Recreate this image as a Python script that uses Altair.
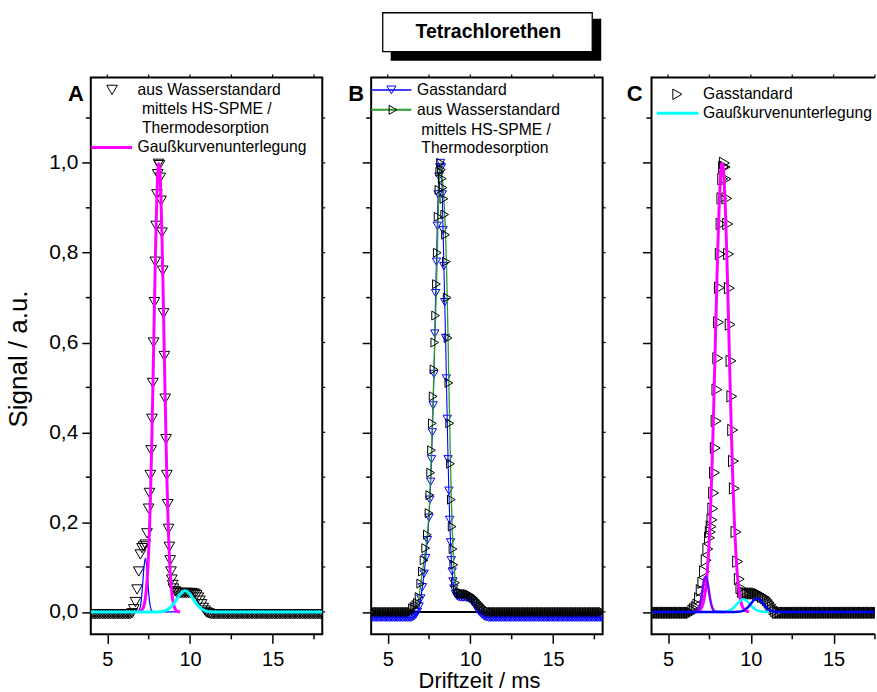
import altair as alt
import pandas as pd

# ---------------- data ----------------
# drift-time sampling of the measured spectra (ms): flat baseline parts and peak part
t_pre = [round(4.0 + 0.1 * i, 2) for i in range(25)]      # 4.0 ... 6.4
t_mid = [6.5, 6.6, 6.7, 6.8, 6.9, 7.0, 7.1, 7.2, 7.3, 7.4,
         7.5, 7.55, 7.6, 7.65, 7.7, 7.75, 7.8, 7.85, 7.9, 7.95,
         8.0, 8.05, 8.1, 8.15, 8.2, 8.25, 8.3, 8.35, 8.4, 8.45,
         8.5, 8.55, 8.6, 8.65, 8.7, 8.75, 8.8, 8.85, 8.9, 8.95,
         9.0, 9.1, 9.2, 9.3, 9.4, 9.5, 9.6, 9.7, 9.8, 9.9,
         10.0, 10.1, 10.2, 10.3, 10.4, 10.5, 10.6, 10.7, 10.8, 10.9,
         11.0, 11.1, 11.2, 11.3, 11.4, 11.5]
t_post = [round(11.6 + 0.1 * i, 2) for i in range(65)]    # 11.6 ... 18.0

# Panel A: aus Wasserstandard (HS-SPME / Thermodesorption)
A_base = -0.005
A_mid = [-0.003, 0.006, 0.022, 0.05, 0.09, 0.128, 0.142, 0.146, 0.15, 0.175,
         0.23, 0.265, 0.305, 0.36, 0.43, 0.51, 0.60, 0.69, 0.78, 0.86,
         0.93, 0.975, 0.998, 0.995, 0.967, 0.916, 0.845, 0.76, 0.665, 0.57,
         0.475, 0.385, 0.305, 0.24, 0.185, 0.145, 0.115, 0.09, 0.072, 0.06,
         0.052, 0.046, 0.043, 0.042, 0.042, 0.042, 0.042, 0.042, 0.042, 0.042,
         0.042, 0.042, 0.041, 0.04, 0.037, 0.032, 0.025, 0.017, 0.009, 0.003,
         -0.001, -0.003, -0.004, -0.005, -0.005, -0.005]

# Panel B: Gasstandard (blue) and aus Wasserstandard (black / green)
B_gas_base = -0.013
B_gas_mid = [-0.012, -0.01, -0.006, 0.0, 0.012, 0.03, 0.055, 0.085, 0.12, 0.16,
             0.21, 0.25, 0.29, 0.34, 0.40, 0.46, 0.53, 0.62, 0.71, 0.78,
             0.86, 0.93, 0.97, 0.99, 1.0, 0.99, 0.93, 0.85, 0.77, 0.69,
             0.61, 0.52, 0.43, 0.34, 0.27, 0.205, 0.155, 0.115, 0.09, 0.068,
             0.052, 0.04, 0.035, 0.033, 0.032, 0.032, 0.032, 0.032, 0.031, 0.03,
             0.028, 0.024, 0.019, 0.013, 0.007, 0.002, -0.002, -0.006, -0.009, -0.011,
             -0.012, -0.013, -0.013, -0.013, -0.013, -0.013]
B_wat_base = 0.0
B_wat_mid = [0.008, 0.011, 0.015, 0.02, 0.033, 0.063, 0.09, 0.115, 0.142, 0.172,
             0.22, 0.26, 0.31, 0.36, 0.42, 0.48, 0.54, 0.60, 0.66, 0.73,
             0.80, 0.88, 0.94, 0.98, 1.0, 0.985, 0.965, 0.945, 0.92, 0.885,
             0.84, 0.78, 0.70, 0.61, 0.51, 0.42, 0.33, 0.25, 0.19, 0.14,
             0.105, 0.065, 0.048, 0.043, 0.041, 0.04, 0.04, 0.04, 0.04, 0.039,
             0.037, 0.034, 0.031, 0.027, 0.023, 0.019, 0.015, 0.011, 0.008, 0.005,
             0.003, 0.001, 0.0, 0.0, 0.0, 0.0]

# Panel C: Gasstandard
C_base = -0.002
C_mid = [0.003, 0.006, 0.01, 0.016, 0.03, 0.048, 0.065, 0.09, 0.115, 0.14,
         0.165, 0.178, 0.19, 0.205, 0.23, 0.265, 0.31, 0.365, 0.425, 0.495,
         0.565, 0.645, 0.722, 0.797, 0.864, 0.921, 0.964, 0.991, 1.0, 0.991,
         0.964, 0.921, 0.864, 0.797, 0.721, 0.64, 0.559, 0.48, 0.405, 0.336,
         0.275, 0.178, 0.112, 0.073, 0.053, 0.045, 0.042, 0.041, 0.041, 0.041,
         0.041, 0.041, 0.041, 0.041, 0.04, 0.039, 0.037, 0.034, 0.033, 0.03,
         0.026, 0.021, 0.016, 0.011, 0.006, 0.002]

# Gaussian fit curves (Gaußkurvenunterlegung)
A_mag_t = [6.9, 7.0, 7.1, 7.2, 7.3, 7.4, 7.45, 7.5, 7.55, 7.6, 7.65, 7.7, 7.75, 7.8,
           7.85, 7.9, 7.95, 8.0, 8.05, 8.1, 8.15, 8.2, 8.25, 8.3, 8.35, 8.4, 8.45,
           8.5, 8.55, 8.6, 8.65, 8.7, 8.75, 8.8, 8.85, 8.9, 8.95, 9.0, 9.1, 9.2, 9.3, 9.4]
A_mag_v = [0.0003, 0.0015, 0.0045, 0.012, 0.03, 0.067, 0.097, 0.135, 0.184, 0.245,
           0.317, 0.399, 0.49, 0.587, 0.684, 0.777, 0.86, 0.928, 0.975, 0.998,
           0.995, 0.967, 0.916, 0.845, 0.759, 0.665, 0.567, 0.472, 0.382, 0.302,
           0.232, 0.174, 0.127, 0.09, 0.062, 0.042, 0.028, 0.018, 0.007, 0.002,
           0.0007, 0.0]
A_blue_t = [6.6, 6.8, 6.9, 7.0, 7.1, 7.2, 7.3, 7.4, 7.5, 7.6, 7.7, 7.8, 8.0, 9.4]
A_blue_v = [0.0, 0.0002, 0.002, 0.012, 0.043, 0.093, 0.12, 0.093, 0.043, 0.012,
            0.002, 0.0002, 0.0, 0.0]
A_cyan_t = [4.0, 8.0, 8.4, 8.6, 8.8, 9.0, 9.2, 9.4, 9.6, 9.7, 9.8, 10.0, 10.2,
            10.4, 10.6, 10.8, 11.0, 11.2, 11.4, 18.0]
A_cyan_v = [0.0, 0.0, 0.0016, 0.0042, 0.0093, 0.0176, 0.0285, 0.0393, 0.046,
            0.047, 0.046, 0.0393, 0.0285, 0.0176, 0.0093, 0.0042, 0.0016, 0.0005,
            0.0, 0.0]

C_mag_t = [6.7, 6.8, 6.9, 7.0, 7.1, 7.2, 7.3, 7.4, 7.5, 7.55, 7.6, 7.65, 7.7, 7.75,
           7.8, 7.85, 7.9, 7.95, 8.0, 8.05, 8.1, 8.15, 8.2, 8.25, 8.3, 8.35, 8.4,
           8.45, 8.5, 8.55, 8.6, 8.65, 8.7, 8.75, 8.8, 8.85, 8.9, 8.95, 9.0, 9.1,
           9.2, 9.3, 9.4, 9.5, 9.6, 9.7, 9.8, 9.9]
C_mag_v = [0.0005, 0.0013, 0.003, 0.0083, 0.017, 0.033, 0.061, 0.105, 0.171, 0.214,
           0.263, 0.319, 0.38, 0.447, 0.518, 0.592, 0.666, 0.737, 0.805, 0.866,
           0.918, 0.958, 0.986, 0.999, 0.997, 0.981, 0.951, 0.908, 0.854, 0.792,
           0.723, 0.651, 0.577, 0.504, 0.434, 0.368, 0.307, 0.253, 0.205, 0.129,
           0.076, 0.043, 0.022, 0.011, 0.005, 0.002, 0.001, 0.0]
C_purp_t = [6.4, 6.7, 6.8, 6.9, 7.0, 7.1, 7.2, 7.3, 7.4, 7.5, 7.6, 7.7, 7.8, 7.9, 8.4]
C_purp_v = [0.0, 0.0009, 0.0038, 0.012, 0.029, 0.054, 0.075, 0.079, 0.063, 0.038,
            0.018, 0.0062, 0.0016, 0.0003, 0.0]
C_cyan_t = [8.0, 8.4, 8.6, 8.8, 9.0, 9.2, 9.4, 9.55, 9.7, 9.9, 10.1, 10.3, 10.5, 10.7, 11.1]
C_cyan_v = [0.0, 0.0004, 0.0017, 0.0048, 0.0109, 0.0191, 0.0261, 0.028, 0.0261,
            0.0191, 0.0109, 0.0048, 0.0017, 0.0004, 0.0]
C_blue_t = [4.0, 9.0, 9.2, 9.4, 9.6, 9.8, 10.0, 10.2, 10.38, 10.6, 10.8, 11.0, 11.2,
            11.4, 11.6, 12.0, 18.0]
C_blue_v = [0.0, 0.0, 0.0002, 0.0011, 0.0036, 0.0094, 0.0182, 0.0268, 0.03, 0.0254,
            0.0163, 0.0079, 0.0029, 0.0008, 0.0002, 0.0, 0.0]

y_major = [0, 0.2, 0.4, 0.6, 0.8, 1.0]
y_minor = [0.1, 0.3, 0.5, 0.7, 0.9, 1.1]
y_all = [0, 0.1, 0.2, 0.3, 0.4, 0.5, 0.6, 0.7, 0.8, 0.9, 1.0, 1.1]
x_major = [5, 10, 15]
x_minor = [7.5, 12.5, 17.5]
x_all = [5, 7.5, 10, 12.5, 15, 17.5]

# ---------------- styling ----------------
FONT = "Liberation Sans"
W, WC, H = 232, 224, 558
YDOM = [-0.05, 1.19]
LEG = 15.7


def spectrum(mid, base):
    t = t_pre + t_mid + t_post
    v = [base] * len(t_pre) + mid + [base] * len(t_post)
    return pd.DataFrame({"t": t, "v": v})


def curve(t, v):
    return pd.DataFrame({"t": t, "v": v})


def xenc(dom):
    return alt.X("t:Q", scale=alt.Scale(domain=dom, nice=False, zero=False),
                 axis=alt.Axis(values=x_major, title=None, grid=False, domain=False,
                               tickSize=9, tickWidth=1.5, tickColor="black",
                               labelFont=FONT, labelFontSize=20, labelColor="black",
                               labelPadding=6))


def yenc(labels):
    return alt.Y("v:Q", scale=alt.Scale(domain=YDOM, nice=False, zero=False),
                 axis=alt.Axis(values=y_major, title=None, grid=False, domain=False,
                               tickSize=9, tickWidth=1.5, tickColor="black",
                               labels=labels,
                               labelExpr="replace(format(datum.value, '.1f'), '.', ',')",
                               labelFont=FONT, labelFontSize=21, labelColor="black",
                               labelPadding=4))


one = pd.DataFrame({"k": [0]})


def text(s, x, y, size=LEG, weight="normal", align="left", angle=0, baseline="middle"):
    return alt.Chart(one).mark_text(text=s, font=FONT, fontSize=size, fontWeight=weight,
                                    align=align, baseline=baseline, angle=angle,
                                    color="black").encode(x=alt.value(x), y=alt.value(y))


def hline(x1, x2, y, color, width):
    return alt.Chart(one).mark_rule(color=color, strokeWidth=width).encode(
        x=alt.value(x1), x2=alt.value(x2), y=alt.value(y))


def sym(x, y, shape, color, size):
    return alt.Chart(one).mark_point(shape=shape, filled=False, color=color, size=size,
                                     strokeWidth=1, opacity=1).encode(
        x=alt.value(x), y=alt.value(y))


def ticks(dom, labels, width, mirror=True):
    X, Y = xenc(dom), yenc(labels)
    ls = [
        alt.Chart(pd.DataFrame({"v": y_minor})).mark_rule(color="black", strokeWidth=1.5)
        .encode(y=Y, x=alt.value(-5), x2=alt.value(0)),
        alt.Chart(pd.DataFrame({"t": x_minor})).mark_rule(color="black", strokeWidth=1.5)
        .encode(x=X, y=alt.value(H), y2=alt.value(H + 5)),
    ]
    if mirror:
        ls += [
            alt.Chart(pd.DataFrame({"v": y_all})).mark_rule(color="black", strokeWidth=1.2)
            .encode(y=Y, x=alt.value(width), x2=alt.value(width + 3)),
            alt.Chart(pd.DataFrame({"t": x_all})).mark_rule(color="black", strokeWidth=1.2)
            .encode(x=X, y=alt.value(0), y2=alt.value(-3)),
        ]
    return ls


def points(df, dom, labels, shape, color, size):
    return alt.Chart(df).mark_point(shape=shape, filled=False, color=color, size=size,
                                    strokeWidth=1, opacity=1, clip=True).encode(
        x=xenc(dom), y=yenc(labels))


def line(df, dom, labels, color, width, interp="linear"):
    return alt.Chart(df).mark_line(color=color, strokeWidth=width, clip=True,
                                   interpolate=interp).encode(x=xenc(dom), y=yenc(labels))


DA = [4, 18]
DC = [4, 17.5]

# ---------------- panel A ----------------
panelA = alt.layer(
    points(spectrum(A_mid, A_base), DA, True, "triangle-down", "black", 115),
    line(curve(A_blue_t, A_blue_v), DA, True, "#0000ff", 1.2, "monotone"),
    line(curve(A_mag_t, A_mag_v), DA, True, "#ff00ff", 3, "monotone"),
    line(curve(A_cyan_t, A_cyan_v), DA, True, "#00ffff", 3, "monotone"),
    *ticks(DA, True, W),
    text("A", -15, 16, 22, "bold", "center"),
    sym(21.3, 12.3, "triangle-down", "black", 115),
    text("aus Wasserstandard", 46.9, 12.3),
    text("mittels HS-SPME /", 51.3, 31.3),
    text("Thermodesorption", 51.3, 50.7),
    hline(0.5, 41.3, 70, "#ff00ff", 3),
    text("Gaußkurvenunterlegung", 46.9, 70),
    text("Signal / a.u.", -72, 282, 26, "normal", "center", 270),
).properties(width=W, height=H,
             view=alt.ViewBackground(stroke="black", strokeWidth=2, fill="white"))

# ---------------- panel B ----------------
panelB = alt.layer(
    alt.Chart(one).mark_rule(color="black", strokeWidth=2).encode(
        y=alt.datum(0), x=alt.value(0), x2=alt.value(W)),
    line(spectrum(B_gas_mid, B_gas_base), DA, False, "#0000ff", 1.1),
    points(spectrum(B_gas_mid, B_gas_base), DA, False, "triangle-down", "#0000ff", 70),
    line(spectrum(B_wat_mid, B_wat_base), DA, False, "#2a9a2a", 1.3),
    points(spectrum(B_wat_mid, B_wat_base), DA, False, "triangle-right", "black", 80),
    *ticks(DA, False, W),
    text("B", -15, 16, 22, "bold", "center"),
    hline(0, 40.3, 12.3, "#0000ff", 1.5),
    sym(20.3, 12.3, "triangle-down", "#0000ff", 80),
    text("Gasstandard", 45.9, 12.3),
    hline(0, 40.3, 32.3, "#2a9a2a", 2),
    sym(21.9, 32.3, "triangle-right", "black", 80),
    text("aus Wasserstandard", 45.9, 32.3),
    text("mittels HS-SPME /", 50.3, 52.3),
    text("Thermodesorption", 50.3, 70.7),
    # title box with shadow
    alt.Chart(one).mark_rect(color="black").encode(
        x=alt.value(19.6), x2=alt.value(230.6), y=alt.value(-59), y2=alt.value(-17)),
    alt.Chart(one).mark_rect(fill="white", stroke="black", strokeWidth=1.3).encode(
        x=alt.value(11.6), x2=alt.value(221.6), y=alt.value(-65), y2=alt.value(-26)),
    text("Tetrachlorethen", 117.4, -45.5, 19.5, "bold", "center"),
    text("Driftzeit / ms", 108.6, 611.5, 22, "normal", "center", 0, "alphabetic"),
).properties(width=W, height=H,
             view=alt.ViewBackground(stroke="black", strokeWidth=2, fill="white"))

# ---------------- panel C ----------------
panelC = alt.layer(
    points(spectrum(C_mid, C_base), DC, False, "triangle-right", "black", 130),
    line(curve(C_mag_t, C_mag_v), DC, False, "#ff00ff", 3, "monotone"),
    line(curve(C_purp_t, C_purp_v), DC, False, "#8000ff", 2.5, "monotone"),
    line(curve(C_cyan_t, C_cyan_v), DC, False, "#00ffff", 2.5, "monotone"),
    line(curve(C_blue_t, C_blue_v), DC, False, "#0000ff", 2.5, "monotone"),
    *ticks(DC, False, WC, mirror=False),
    alt.Chart(pd.DataFrame({"t": x_all})).mark_rule(color="black", strokeWidth=1.2)
    .encode(x=xenc(DC), y=alt.value(0), y2=alt.value(-3)),
    alt.Chart(one).mark_rule(color="black", strokeWidth=2).encode(
        x=alt.value(0), y=alt.value(-1), y2=alt.value(H + 1)),
    alt.Chart(one).mark_rule(color="black", strokeWidth=2).encode(
        x=alt.value(0), x2=alt.value(WC), y=alt.value(0)),
    alt.Chart(one).mark_rule(color="black", strokeWidth=2).encode(
        x=alt.value(0), x2=alt.value(WC), y=alt.value(H)),
    text("C", -17, 16, 22, "bold", "center"),
    sym(25.9, 16.7, "triangle-right", "black", 110),
    text("Gasstandard", 51.6, 16.7),
    hline(5.3, 46.9, 35.7, "#00ffff", 3),
    text("Gaußkurvenunterlegung", 51.6, 35.7),
).properties(width=WC, height=H,
             view=alt.ViewBackground(stroke="transparent", fill="white"))

chart = alt.hconcat(panelA, panelB, panelC, spacing=49, bounds="flush").resolve_scale(
    x="independent", y="independent"
).properties(
    padding={"left": 5, "top": 10, "right": 0, "bottom": 0},
    background="white",
)

chart.save("out.html", embed_options={"renderer": "svg", "actions": False})
